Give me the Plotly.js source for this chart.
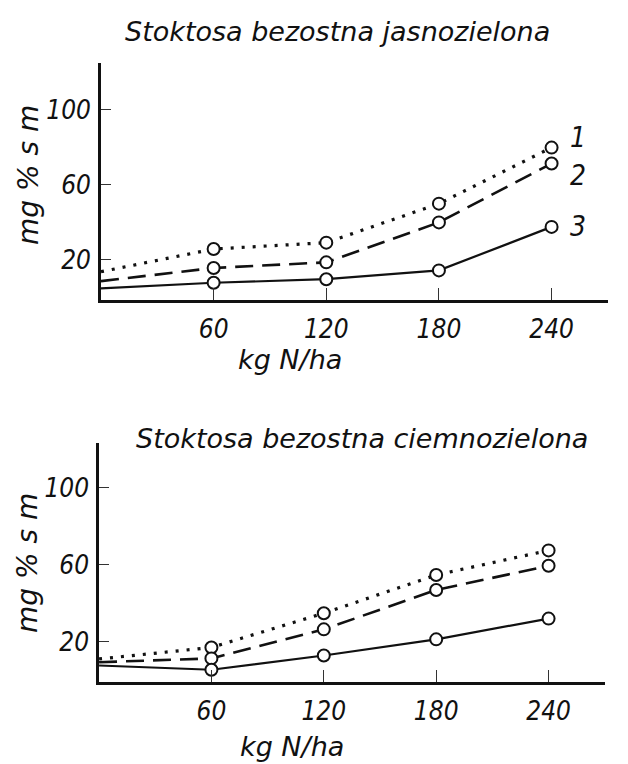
<!DOCTYPE html>
<html>
<head>
<meta charset="utf-8">
<script src="https://cdn.plot.ly/plotly-3.0.1.min.js"></script>
<style>html,body{margin:0;padding:0;background:#fff;}#chart{width:628px;height:764px;}</style>
</head>
<body>
<div id="chart"></div>
<script>
// Data
const doses = [0, 60, 120, 180, 240];            // kg N/ha
const xTicks = [60, 120, 180, 240];
const yTicks = [20, 60, 100];
const titleTop = "Stoktosa bezostna jasnozielona";
const titleBottom = "Stoktosa bezostna ciemnozielona";
const xTitle = "kg N/ha";
const yTitle = "mg % s m";
const seriesNames = ["1", "2", "3"];
// upper chart (jasnozielona)
const top1 = [13.5, 25.6, 29.0, 49.8, 79.7];
const top2 = [8.5, 15.5, 18.5, 39.8, 71.2];
const top3 = [4.6, 7.6, 9.5, 14.2, 37.4];
// lower chart (ciemnozielona)
const bot1 = [11.0, 17.0, 34.8, 54.7, 67.5];
const bot2 = [9.3, 11.3, 26.4, 46.9, 59.5];
const bot3 = [7.6, 5.4, 12.8, 21.2, 32.0];

const dashes = ["3px,8px", "18px,9px", "solid"];
const lineW = [3.2, 2.6, 2.2];

function lineTrace(y, i, xa, ya) {
  return {
    x: doses, y: y, xaxis: xa, yaxis: ya, mode: "lines", name: seriesNames[i],
    showlegend: false, hoverinfo: "skip",
    line: {color: "#111", width: lineW[i], dash: dashes[i]}
  };
}
function markTrace(y, i, xa, ya) {
  return {
    x: doses.slice(1), y: y.slice(1), xaxis: xa, yaxis: ya, mode: "markers", name: seriesNames[i],
    showlegend: false, hoverinfo: "skip",
    marker: {symbol: "circle", size: 12, color: "rgb(255,255,255)", opacity: 1, line: {color: "#111", width: 2}}
  };
}
const sets = [[top1, "x", "y", 0], [top2, "x", "y", 1], [top3, "x", "y", 2],
              [bot1, "x2", "y2", 0], [bot2, "x2", "y2", 1], [bot3, "x2", "y2", 2]];
const data = sets.map(s => lineTrace(s[0], s[3], s[1], s[2]))
  .concat(sets.map(s => markTrace(s[0], s[3], s[1], s[2])));

const tickFont = {family: "DejaVu Sans Condensed, DejaVu Sans, sans-serif", size: 26, color: "#111", style: "italic"};
const textFont = {family: "DejaVu Sans, sans-serif", size: 27, color: "#111", style: "italic"};
const axTitleFont = {family: "DejaVu Sans, sans-serif", size: 27, color: "#111", style: "italic"};
const yTitleFont = {family: "DejaVu Sans, sans-serif", size: 28, color: "#111", style: "italic"};

function xaxis(domain, anchor) {
  return {
    domain: domain, anchor: anchor, range: [0, 270], tickmode: "array", tickvals: xTicks,
    ticks: "inside", ticklen: 12, tickwidth: 1, tickcolor: "#333",
    showline: true, linewidth: 2.8, linecolor: "#111", showgrid: false, zeroline: false,
    tickfont: tickFont, ticklabelstandoff: 4
  };
}
function yaxis(domain, anchor, range) {
  return {
    domain: domain, anchor: anchor, range: range, tickmode: "array", tickvals: yTicks,
    ticks: "inside", ticklen: 10, tickwidth: 1, tickcolor: "#333",
    showline: true, linewidth: 2.8, linecolor: "#111", showgrid: false, zeroline: false,
    tickfont: tickFont, ticklabelstandoff: 2
  };
}

const labelShift = [[16, 10], [16, -12], [16, 0]];
const lastIdx = doses.length - 1;
const topSeries = [top1, top2, top3];

function paperText(text, px, py, font, angle) {
  return {text: text, xref: "paper", yref: "paper", x: px / 628, y: 1 - py / 764,
          showarrow: false, font: font, xanchor: "center", yanchor: "middle", textangle: angle || 0};
}

const layout = {
  width: 628, height: 764, margin: {l: 0, r: 0, t: 0, b: 0},
  paper_bgcolor: "#fff", plot_bgcolor: "#fff", showlegend: false,
  xaxis: xaxis([0.1608, 0.968], "y"),
  yaxis: yaxis([0.6073, 0.9175], "x", [-1.6, 124.8]),
  xaxis2: xaxis([0.1577, 0.963], "y2"),
  yaxis2: yaxis([0.1073, 0.4202], "x2", [-1, 123.4]),
  annotations: [
    paperText(titleTop, 337, 31, textFont),
    paperText(titleBottom, 362, 438, textFont),
    paperText(xTitle, 290, 360, axTitleFont),
    paperText(xTitle, 292, 746, axTitleFont),
    paperText(yTitle, 29, 175, yTitleFont, -90),
    paperText(yTitle, 27, 563, yTitleFont, -90)
  ].concat(topSeries.map((s, i) => ({
    text: seriesNames[i], xref: "x", yref: "y", x: doses[lastIdx], y: s[lastIdx],
    xanchor: "left", yanchor: "middle", xshift: labelShift[i][0], yshift: labelShift[i][1],
    showarrow: false, font: {family: "DejaVu Sans Condensed, DejaVu Sans, sans-serif", size: 28, color: "#111", style: "italic"}
  })))
};

Plotly.newPlot("chart", data, layout, {displayModeBar: false, staticPlot: true});
</script>
</body>
</html>
